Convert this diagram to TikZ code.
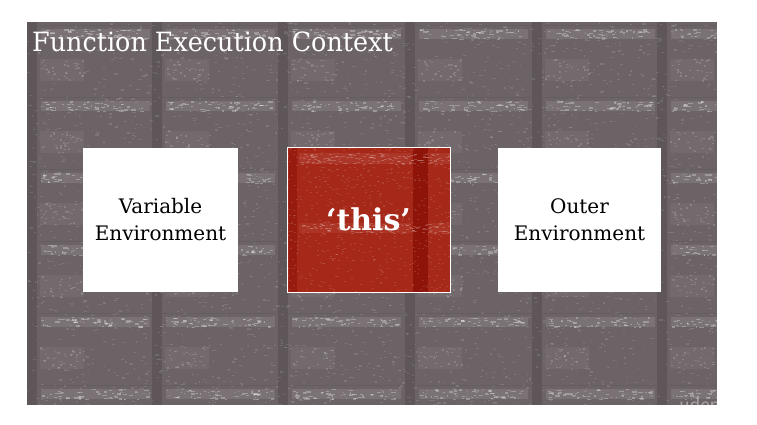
\documentclass[tikz,border=0pt]{standalone}
\usepackage{fontspec}
\setmainfont{DejaVu Serif}
\usetikzlibrary{calc}
\definecolor{slate}{HTML}{6C6366}
\definecolor{slateseam}{HTML}{5E5659}
\definecolor{brick}{HTML}{A62818}
\definecolor{brickdark}{HTML}{8E1409}
\begin{document}
\begin{tikzpicture}[x=1pt,y=-1pt,
  panel/.style={inner sep=0pt, minimum width=155pt, minimum height=144pt,
    align=center, font=\fontsize{20}{27}\selectfont, text=black},
  whitepanel/.style={panel, fill=white},
  seam/.style={slateseam},
  grain/.style={white, opacity=0.12},
  fleck/.style={white, opacity=0.28}]
% page and backdrop
\useasboundingbox (0,0) rectangle (757,425);
\fill[white] (0,0) rectangle (757,425);
\fill[slate] (27,22) rectangle (717,405);
\begin{scope}
  \clip (27,22) rectangle (717,405);
  % darker vertical seams between tiles
  \foreach \c in {32,157,283,410,537,662} {
    \fill[seam] (\c-5,22) rectangle (\c+5,405);
  }
  % soft horizontal streaks and pale clouds, tile by tile
  \pgfmathsetseed{3}
  \foreach \r in {0,...,5} {
    \pgfmathsetmacro\yy{33+72*\r}
    \fill[seam, opacity=0.4] (27,\yy-8) rectangle (717,\yy-7);
    \foreach \c in {32,157,283,410,537,662} {
      \fill[white, opacity=0.1] (\c+9,\yy-4) rectangle (\c+118,\yy+6);
      \foreach \k in {1,...,50} {
        \pgfmathsetmacro\fx{\c+9+105*rnd}
        \pgfmathsetmacro\fy{\yy-4+10*rnd}
        \pgfmathsetmacro\fw{1+4*rnd}
        \fill[fleck] (\fx,\fy) rectangle (\fx+\fw,\fy+1.3);
      }
      \fill[white, opacity=0.05] (\c+8,\yy+26) rectangle (\c+52,\yy+48);
      \foreach \k in {1,...,22} {
        \pgfmathsetmacro\fx{\c+8+44*rnd}
        \pgfmathsetmacro\fy{\yy+26+22*rnd}
        \fill[fleck, opacity=0.16] (\fx,\fy) rectangle (\fx+2,\fy+1.3);
      }
    }
  }
  % grain
  \pgfmathsetseed{7}
  \foreach \i in {1,...,3200} {
    \pgfmathsetmacro\rx{27+690*rnd}
    \pgfmathsetmacro\ry{22+383*rnd}
    \pgfmathsetmacro\rw{1+2.5*rnd}
    \fill[grain] (\rx,\ry) rectangle (\rx+\rw,\ry+1.2);
  }
  % faint watermark at the lower edge
  \node[anchor=north west, inner sep=0pt, text=white, opacity=0.4,
        font=\fontsize{22}{22}\sffamily] (mark) at (679,396) {udemy};
\end{scope}

% heading
\node[anchor=base west, inner sep=0pt, text=white,
      font=\fontsize{26.5}{26.5}\selectfont] (title) at (32,52)
      {\scalebox{0.96}[1]{Function Execution Context}};

% the three panels
\node[whitepanel] (varenv) at (160.5,220) {Variable\\Environment};
\node[panel, minimum width=163pt, minimum height=145pt, fill=brick,
      draw=white, line width=0.9pt, text=white,
      font=\fontsize{30}{30}\bfseries,
      path picture={
        \coordinate (nw) at (path picture bounding box.north west);
        \fill[brickdark] ($(nw)+(126,0)$) rectangle ($(nw)+(141,146)$);
        \fill[brickdark, opacity=0.6] ($(nw)+(2,0)$) rectangle ($(nw)+(10,146)$);
        \fill[white, opacity=0.07] ($(nw)+(12,6)$) rectangle ($(nw)+(124,17)$);
        \fill[white, opacity=0.07] ($(nw)+(143,6)$) rectangle ($(nw)+(163,17)$);
        \fill[white, opacity=0.06] ($(nw)+(12,76)$) rectangle ($(nw)+(124,86)$);
        \fill[white, opacity=0.06] ($(nw)+(143,76)$) rectangle ($(nw)+(163,86)$);
        \pgfmathsetseed{11}
        \foreach \i in {1,...,600} {
          \pgfmathsetmacro\rx{163*rnd}
          \pgfmathsetmacro\ry{146*rnd}
          \fill[white, opacity=0.12] ($(nw)+(\rx,\ry)$) rectangle ++(2,1);
        }
        \foreach \i in {1,...,120} {
          \pgfmathsetmacro\rx{12+150*rnd}
          \pgfmathsetmacro\ry{6+11*rnd}
          \fill[white, opacity=0.2] ($(nw)+(\rx,\ry)$) rectangle ++(3,1);
        }
        \foreach \i in {1,...,120} {
          \pgfmathsetmacro\rx{12+150*rnd}
          \pgfmathsetmacro\ry{76+10*rnd}
          \fill[white, opacity=0.18] ($(nw)+(\rx,\ry)$) rectangle ++(3,1);
        }
      }] (thisbox) at (368.5,219.5) {‘this’};
\node[whitepanel, minimum width=163pt] (outerenv) at (579.5,220) {Outer\\Environment};
\end{tikzpicture}
\end{document}
